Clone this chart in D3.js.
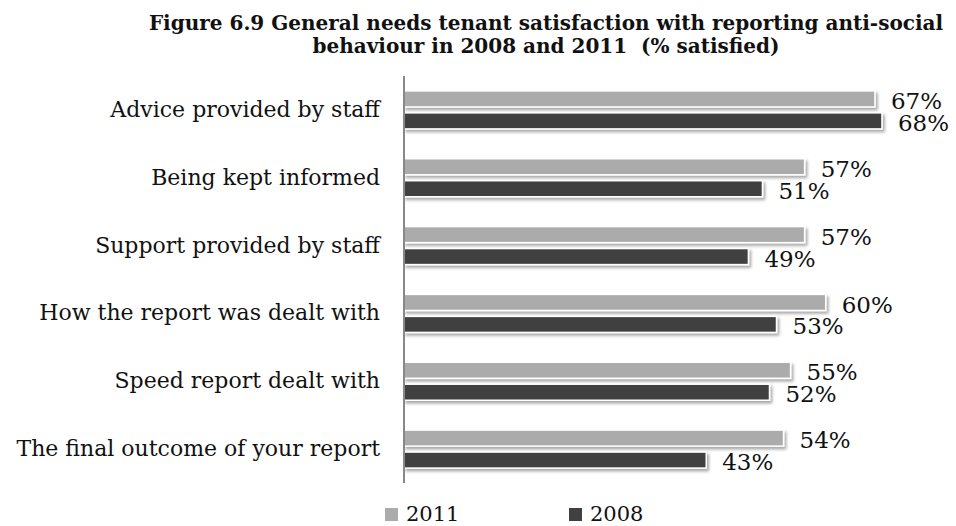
<!DOCTYPE html>
<html>
<head>
<meta charset="utf-8">
<script src="https://cdn.jsdelivr.net/npm/d3@7"></script>
<style>
  html, body { margin: 0; padding: 0; background: #fff; }
  svg { display: block; }
  text { font-family: "DejaVu Serif", serif; fill: #111; white-space: pre; }
</style>
</head>
<body>
<svg id="chart" width="956" height="526"></svg>
<script>
// Satisfaction with reporting anti-social behaviour (% satisfied)
const categories = [
  "Advice provided by staff",
  "Being kept informed",
  "Support provided by staff",
  "How the report was dealt with",
  "Speed report dealt with",
  "The final outcome of your report"
];
const seriesNames = ["2011", "2008"];
const values2011 = [67, 57, 57, 60, 55, 54];
const values2008 = [68, 51, 49, 53, 52, 43];
const titleLines = [
  "Figure 6.9 General needs tenant satisfaction with reporting anti-social",
  "behaviour in 2008 and 2011  (% satisfied)"
];

const colors = { "2011": "#ababab", "2008": "#404040" };
const seriesValues = { "2011": values2011, "2008": values2008 };

const svg = d3.select("#chart");

// soft drop shadow under each bar
const defs = svg.append("defs");
const f = defs.append("filter").attr("id", "shadow")
  .attr("x", "-5%").attr("y", "-40%").attr("width", "110%").attr("height", "200%");
f.append("feDropShadow").attr("dx", 2).attr("dy", 2.5).attr("stdDeviation", 1.4)
  .attr("flood-color", "#000").attr("flood-opacity", 0.35);

const x = d3.scaleLinear().domain([0, 70]).range([404, 896]);
const y = d3.scaleBand().domain(categories).range([76, 483])
  .paddingInner(0.44).paddingOuter(0.22);
const ySub = d3.scaleBand().domain(seriesNames).range([0, y.bandwidth()]).paddingInner(0.27);

// title
svg.append("g").selectAll("text").data(titleLines).join("text")
  .attr("x", 546).attr("y", (d, i) => 30 + i * 23)
  .attr("text-anchor", "middle")
  .style("font-weight", "bold").style("font-size", "20px")
  .text(d => d);

// bars
const rows = categories.map((c, i) => ({ c, i }));
const groups = svg.append("g").selectAll("g").data(rows).join("g")
  .attr("transform", d => `translate(0,${y(d.c)})`);

groups.selectAll("rect").data(d => seriesNames.map(s => ({ s, v: seriesValues[s][d.i] })))
  .join("rect")
  .attr("x", x(0))
  .attr("y", d => ySub(d.s))
  .attr("width", d => x(d.v) - x(0))
  .attr("height", ySub.bandwidth())
  .attr("fill", d => colors[d.s])
  .attr("stroke", "#fff").attr("stroke-width", 1.5)
  .attr("filter", "url(#shadow)");

// value labels
groups.selectAll("text.val").data(d => seriesNames.map(s => ({ s, v: seriesValues[s][d.i] })))
  .join("text").attr("class", "val")
  .attr("x", d => x(d.v) + 16)
  .attr("y", d => ySub(d.s) + ySub.bandwidth() / 2 + 2)
  .attr("dy", "0.35em")
  .style("font-size", "23px")
  .text(d => d.v + "%");

// category axis
const yAxis = d3.axisLeft(y).tickSize(0).tickPadding(24);
const ax = svg.append("g").attr("transform", `translate(${x(0)},0)`).call(yAxis);
ax.select(".domain").attr("stroke", "#888").attr("stroke-width", 2)
  .attr("d", `M0,76V483`);
ax.selectAll("text").style("font-family", "DejaVu Serif, serif")
  .style("font-size", "22px").attr("fill", "#111");

// legend
const legend = svg.append("g").selectAll("g").data(seriesNames).join("g")
  .attr("transform", (d, i) => `translate(${385 + i * 184},508)`);
legend.append("rect").attr("width", 13).attr("height", 13)
  .attr("fill", d => colors[d]);
legend.append("text").attr("x", 21).attr("y", 13)
  .style("font-size", "21px").text(d => d);
</script>
</body>
</html>
